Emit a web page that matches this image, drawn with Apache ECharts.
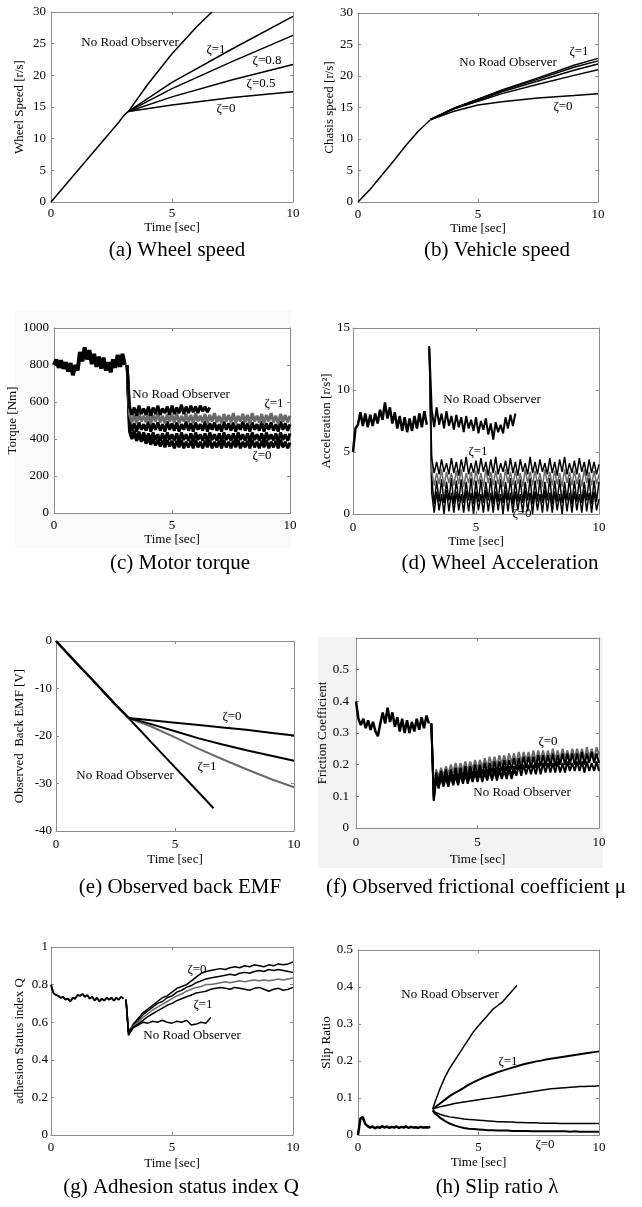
<!DOCTYPE html>
<html>
<head>
<meta charset="utf-8">
<title>Road observer results</title>
<script src="https://cdn.jsdelivr.net/npm/echarts@6/dist/echarts.min.js"></script>
<style>
  html, body { margin: 0; padding: 0; background: #fff; }
  #chart { width: 642px; height: 1207px; }
</style>
</head>
<body>
<div id="chart"></div>
<script>
// time bases (sec)
var tPre = [0, 0.1, 0.2, 0.3, 0.4, 0.5, 0.6, 0.7, 0.8, 0.9, 1.0, 1.1, 1.2, 1.3, 1.4, 1.5,
    1.6, 1.7, 1.8, 1.9, 2.0, 2.1, 2.2, 2.3, 2.4, 2.5, 2.6, 2.7, 2.8, 2.9, 3.0];
var tPost = [3.1, 3.2, 3.4, 3.6, 3.8, 4.0, 4.2, 4.4, 4.6, 4.8, 5.0, 5.2, 5.4, 5.6, 5.8, 6.0,
    6.2, 6.4, 6.6, 6.8, 7.0, 7.2, 7.4, 7.6, 7.8, 8.0, 8.2, 8.4, 8.6, 8.8, 9.0, 9.2, 9.4, 9.6, 9.8, 10.0];
var tNro = [3.1, 3.2, 3.4, 3.6, 3.8, 4.0, 4.2, 4.4, 4.6, 4.8, 5.0, 5.2, 5.4, 5.6, 5.8, 6.0, 6.2, 6.4, 6.6];
var tFine = [3.1, 3.2, 3.3, 3.4, 3.5, 3.6, 3.7, 3.8, 3.9, 4.0,
    4.1, 4.2, 4.3, 4.4, 4.5, 4.6, 4.7, 4.8, 4.9, 5.0,
    5.1, 5.2, 5.3, 5.4, 5.5, 5.6, 5.7, 5.8, 5.9, 6.0,
    6.1, 6.2, 6.3, 6.4, 6.5, 6.6, 6.7, 6.8, 6.9, 7.0,
    7.1, 7.2, 7.3, 7.4, 7.5, 7.6, 7.7, 7.8, 7.9, 8.0,
    8.1, 8.2, 8.3, 8.4, 8.5, 8.6, 8.7, 8.8, 8.9, 9.0,
    9.1, 9.2, 9.3, 9.4, 9.5, 9.6, 9.7, 9.8, 9.9, 10.0];
var tNroFine = [3.1, 3.2, 3.3, 3.4, 3.5, 3.6, 3.7, 3.8, 3.9, 4.0,
    4.1, 4.2, 4.3, 4.4, 4.5, 4.6, 4.7, 4.8, 4.9, 5.0,
    5.1, 5.2, 5.3, 5.4, 5.5, 5.6, 5.7, 5.8, 5.9, 6.0,
    6.1, 6.2, 6.3, 6.4, 6.5, 6.6];

// (a) wheel speed [r/s]
var wheelT0 = [0, 1, 2, 2.8, 3.0, 3.1, 3.2];
var wheelCommon = [0, 4.5, 9.0, 12.6, 13.6, 14.0, 14.3];
var wheelTNro = [3.2, 4, 5, 6, 6.65];
var wheelNro = [14.3, 18.6, 23.4, 27.6, 30];
var wheelTPost = [3.2, 5, 7.5, 10];
var wheelZeta1 = [14.3, 18.9, 24.2, 29.3];
var wheelZeta08 = [14.3, 17.9, 22.2, 26.3];
var wheelZeta05 = [14.3, 16.6, 19.3, 21.7];
var wheelZeta0 = [14.3, 15.3, 16.5, 17.4];

// (b) chassis speed [r/s]
var chassisT0 = [0, 0.5, 1, 1.5, 2, 2.5, 3.03];
var chassisCommon = [0, 2.0, 4.3, 6.6, 9.0, 11.2, 13.1];
var chassisTPost = [3.03, 4, 5, 6, 7.5, 9, 10];
var chassisZeta1 = [13.1, 14.9, 16.3, 17.8, 19.7, 21.7, 22.8];
var chassisNro = [13.1, 14.9, 16.3, 17.7, 19.5, 21.4, 22.4];
var chassisZeta08 = [13.1, 14.8, 16.1, 17.5, 19.2, 20.9, 21.9];
var chassisZeta05 = [13.1, 14.8, 16.0, 17.2, 18.7, 20.1, 21.0];
var chassisZeta0 = [13.1, 14.4, 15.4, 15.9, 16.5, 16.9, 17.2];

// (c) motor torque [Nm]
var torquePre = [800, 830, 785, 825, 780, 815,
    765, 810, 745, 800, 770, 870,
    820, 895, 830, 880, 805, 860,
    790, 845, 780, 840, 770, 815,
    760, 830, 785, 855, 790, 860,
    800];
var torqueZeta1 = [800, 535, 490, 530, 485, 540, 495, 525, 490, 535,
    485, 530, 495, 540, 490, 525, 485, 535, 495, 530,
    490, 540, 485, 525, 495, 535, 490, 530, 485, 540,
    495, 525, 490, 535, 485, 530, 495, 540, 490, 525,
    485, 535, 495, 530, 490, 540, 485, 525, 495, 535,
    490, 530, 485, 540, 495, 525, 490, 535, 485, 530,
    495, 540, 490, 525, 485, 535, 495, 530, 490, 525];
var torqueZeta08 = [800, 495, 445, 485, 440, 490, 450, 480, 445, 495,
    440, 485, 450, 490, 445, 480, 440, 495, 450, 485,
    445, 490, 440, 480, 450, 495, 445, 485, 440, 490,
    450, 480, 445, 495, 440, 485, 450, 490, 445, 480,
    440, 495, 450, 485, 445, 490, 440, 480, 450, 495,
    445, 485, 440, 490, 450, 480, 445, 495, 440, 485,
    450, 490, 445, 480, 440, 495, 450, 485, 445, 480];
var torqueZeta05 = [800, 455, 405, 445, 400, 440, 395, 435, 390, 430,
    390, 435, 395, 425, 390, 430, 385, 435, 395, 425,
    390, 430, 385, 435, 395, 425, 390, 430, 385, 435,
    395, 425, 390, 430, 385, 435, 395, 425, 390, 430,
    385, 435, 395, 425, 390, 430, 385, 435, 395, 425,
    390, 430, 385, 435, 395, 425, 390, 430, 385, 435,
    395, 425, 390, 430, 385, 435, 395, 425, 390, 430];
var torqueZeta0 = [800, 440, 400, 430, 390, 420, 385, 415, 375, 405,
    370, 400, 365, 395, 360, 390, 355, 395, 360, 390,
    350, 390, 355, 395, 350, 385, 355, 390, 350, 395,
    355, 385, 350, 390, 355, 395, 350, 385, 355, 390,
    350, 395, 355, 385, 350, 390, 355, 395, 350, 385,
    355, 390, 350, 395, 355, 385, 350, 390, 355, 395,
    350, 385, 355, 390, 350, 395, 355, 385, 350, 380];
var torqueNro = [800, 575, 530, 570, 525, 580, 535, 565, 530, 575,
    525, 570, 535, 580, 530, 565, 540, 575, 530, 580,
    535, 570, 540, 585, 535, 575, 540, 580, 545, 575,
    540, 580, 550, 575, 545, 570];

// (d) wheel acceleration [r/s^2]
var accelPre = [5.0, 6.9, 7.2, 8.2, 7.1, 8.1,
    7.0, 8.0, 7.1, 8.1, 7.3, 8.4,
    7.6, 9.0, 7.7, 8.6, 7.3, 8.2,
    6.9, 7.9, 6.7, 7.8, 6.6, 7.7,
    6.7, 7.9, 6.9, 8.1, 7.0, 8.3,
    7.2];
var accelNro = [13.5, 8.4, 7.0, 8.6, 7.2, 8.1, 6.9, 8.3, 7.1, 7.9,
    6.8, 8.0, 7.0, 7.8, 6.6, 7.9, 6.9, 7.6, 6.7, 7.8,
    6.5, 7.5, 6.8, 7.7, 6.4, 7.3, 6.0, 7.4, 6.6, 7.2,
    6.5, 7.8, 6.9, 8.0, 7.1, 8.1];
var accelZeta1 = [13.5, 4.5, 3.3, 4.2, 3.2, 4.4, 3.4, 4.1, 3.2, 4.5,
    3.3, 4.2, 3.1, 4.4, 3.4, 4.6, 3.2, 4.1, 3.3, 4.3,
    3.2, 4.5, 3.4, 4.2, 3.1, 4.4, 3.3, 4.6, 3.2, 4.1,
    3.4, 4.3, 3.2, 4.5, 3.3, 4.2, 3.1, 4.4, 3.4, 4.1,
    3.2, 4.6, 3.3, 4.2, 3.2, 4.4, 3.4, 4.1, 3.2, 4.5,
    3.3, 4.2, 3.1, 4.4, 3.4, 4.6, 3.2, 4.1, 3.3, 4.3,
    3.2, 4.5, 3.4, 4.2, 3.1, 4.4, 3.3, 4.2, 3.2, 4.0];
var accelGray = [13.5, 3.5, 2.3, 3.3, 2.4, 3.6, 2.2, 3.4, 2.5, 3.3,
    2.3, 3.5, 2.4, 3.6, 2.2, 3.3, 2.5, 3.4, 2.3, 3.5,
    2.4, 3.3, 2.2, 3.6, 2.5, 3.4, 2.3, 3.5, 2.4, 3.3,
    2.2, 3.6, 2.5, 3.4, 2.3, 3.5, 2.4, 3.3, 2.2, 3.6,
    2.5, 3.4, 2.3, 3.5, 2.4, 3.3, 2.2, 3.6, 2.5, 3.4,
    2.3, 3.5, 2.4, 3.3, 2.2, 3.6, 2.5, 3.4, 2.3, 3.5,
    2.4, 3.3, 2.2, 3.6, 2.5, 3.4, 2.3, 3.5, 2.4, 3.2];
var accelZeta05 = [13.5, 2.9, 0.8, 2.7, 1.0, 2.8, 0.9, 2.6, 1.1, 2.9,
    0.8, 2.7, 1.0, 2.8, 0.9, 2.6, 1.1, 2.9, 0.8, 2.7,
    1.0, 2.8, 0.9, 2.6, 1.1, 2.9, 0.8, 2.7, 1.0, 2.8,
    0.9, 2.6, 1.1, 2.9, 0.8, 2.7, 1.0, 2.8, 0.9, 2.6,
    1.1, 2.9, 0.8, 2.7, 1.0, 2.8, 0.9, 2.6, 1.1, 2.9,
    0.8, 2.7, 1.0, 2.8, 0.9, 2.6, 1.1, 2.9, 0.8, 2.7,
    1.0, 2.8, 0.9, 2.6, 1.1, 2.9, 0.8, 2.7, 1.0, 2.6];
var accelZeta0 = [13.5, 1.7, 0.1, 1.8, 0.3, 1.6, 0.0, 1.9, 0.2, 1.7,
    0.1, 1.8, 0.3, 1.6, 0.1, 1.9, 0.2, 1.7, 0.0, 1.8,
    0.3, 1.6, 0.1, 1.9, 0.2, 1.7, 0.1, 1.8, 0.3, 1.6,
    0.0, 1.9, 0.2, 1.7, 0.1, 1.8, 0.3, 1.6, 0.1, 1.9,
    0.2, 1.7, 0.0, 1.8, 0.3, 1.6, 0.1, 1.9, 0.2, 1.7,
    0.1, 1.8, 0.3, 1.6, 0.0, 1.9, 0.2, 1.7, 0.1, 1.8,
    0.3, 1.6, 0.1, 1.9, 0.2, 1.7, 0.1, 1.8, 0.3, 1.2];

// (e) observed back EMF [V]
var emfT0 = [0, 0.5, 1, 1.5, 2, 2.5, 3.05];
var emfCommon = [0, -2.7, -5.4, -8.0, -10.7, -13.4, -16.2];
var emfTNro = [3.05, 4, 5, 6, 6.62];
var emfNro = [-16.2, -21.3, -26.6, -31.9, -35.2];
var emfTPost = [3.05, 4, 5, 6, 7, 8, 9, 10];
var emfZeta0 = [-16.2, -16.7, -17.2, -17.7, -18.2, -18.7, -19.3, -19.9];
var emfZeta05 = [-16.2, -17.5, -19.0, -20.5, -21.8, -23.0, -24.1, -25.2];
var emfZeta1 = [-16.2, -18.0, -20.3, -22.7, -24.9, -27.0, -29.0, -30.8];

// (f) observed friction coefficient
var frictionPre = [0.400, 0.345, 0.325, 0.345, 0.315, 0.340,
    0.310, 0.335, 0.305, 0.290, 0.330, 0.365,
    0.330, 0.380, 0.335, 0.365, 0.320, 0.350,
    0.305, 0.345, 0.300, 0.340, 0.300, 0.335,
    0.305, 0.345, 0.310, 0.350, 0.315, 0.355,
    0.330];
var frictionZeta0 = [0.330, 0.120, 0.185, 0.160, 0.190, 0.165, 0.195, 0.170, 0.200, 0.175,
    0.205, 0.175, 0.205, 0.180, 0.210, 0.180, 0.210, 0.185, 0.215, 0.185,
    0.215, 0.190, 0.220, 0.190, 0.225, 0.195, 0.225, 0.195, 0.230, 0.200,
    0.230, 0.200, 0.235, 0.205, 0.235, 0.205, 0.240, 0.205, 0.240, 0.210,
    0.240, 0.210, 0.245, 0.210, 0.245, 0.215, 0.245, 0.210, 0.245, 0.215,
    0.250, 0.215, 0.245, 0.215, 0.250, 0.220, 0.245, 0.215, 0.250, 0.220,
    0.250, 0.220, 0.250, 0.215, 0.255, 0.220, 0.250, 0.220, 0.255, 0.230];
var frictionZeta05 = [0.330, 0.100, 0.175, 0.145, 0.180, 0.150, 0.185, 0.150, 0.185, 0.155,
    0.190, 0.155, 0.190, 0.160, 0.195, 0.160, 0.195, 0.165, 0.200, 0.165,
    0.200, 0.170, 0.205, 0.170, 0.205, 0.175, 0.210, 0.175, 0.210, 0.180,
    0.215, 0.180, 0.215, 0.185, 0.220, 0.185, 0.220, 0.185, 0.225, 0.190,
    0.225, 0.190, 0.225, 0.190, 0.230, 0.195, 0.230, 0.195, 0.230, 0.195,
    0.235, 0.195, 0.230, 0.200, 0.235, 0.200, 0.235, 0.200, 0.235, 0.200,
    0.235, 0.200, 0.240, 0.200, 0.235, 0.205, 0.240, 0.205, 0.235, 0.205];
var frictionZeta1 = [0.330, 0.090, 0.160, 0.130, 0.165, 0.135, 0.170, 0.135, 0.170, 0.140,
    0.175, 0.140, 0.175, 0.145, 0.180, 0.145, 0.180, 0.150, 0.180, 0.150,
    0.185, 0.150, 0.185, 0.155, 0.190, 0.155, 0.190, 0.160, 0.190, 0.160,
    0.195, 0.160, 0.195, 0.165, 0.195, 0.165, 0.200, 0.165, 0.200, 0.170,
    0.200, 0.170, 0.200, 0.170, 0.205, 0.170, 0.205, 0.175, 0.205, 0.175,
    0.205, 0.175, 0.210, 0.175, 0.205, 0.175, 0.210, 0.180, 0.205, 0.180,
    0.210, 0.180, 0.210, 0.175, 0.210, 0.180, 0.205, 0.180, 0.210, 0.180];
var frictionNro = [0.330, 0.085, 0.155, 0.125, 0.160, 0.130, 0.160, 0.130, 0.165, 0.135,
    0.165, 0.135, 0.170, 0.140, 0.170, 0.140, 0.170, 0.145, 0.175, 0.145,
    0.175, 0.145, 0.175, 0.150, 0.180, 0.150, 0.180, 0.150, 0.180, 0.155,
    0.180, 0.155, 0.185, 0.155, 0.180, 0.170];

// (g) adhesion status index Q
var adhesionPre = [0.800, 0.755, 0.745, 0.740, 0.730, 0.735,
    0.720, 0.725, 0.710, 0.730, 0.725, 0.745,
    0.740, 0.750, 0.735, 0.745, 0.725, 0.735,
    0.715, 0.730, 0.710, 0.725, 0.715, 0.730,
    0.720, 0.730, 0.715, 0.730, 0.720, 0.735,
    0.725];
var adhesionZeta0 = [0.720, 0.540, 0.590, 0.620, 0.650, 0.670,
    0.690, 0.710, 0.730, 0.740, 0.760, 0.780,
    0.790, 0.800, 0.820, 0.840, 0.860, 0.870,
    0.875, 0.880, 0.885, 0.880, 0.890, 0.895,
    0.890, 0.900, 0.895, 0.905, 0.900, 0.895,
    0.905, 0.900, 0.910, 0.905, 0.910, 0.920];
var adhesionZeta05 = [0.720, 0.550, 0.585, 0.610, 0.640, 0.660,
    0.680, 0.700, 0.710, 0.730, 0.740, 0.760,
    0.770, 0.785, 0.795, 0.810, 0.820, 0.830,
    0.835, 0.840, 0.845, 0.850, 0.855, 0.850,
    0.860, 0.865, 0.860, 0.870, 0.875, 0.870,
    0.880, 0.875, 0.880, 0.875, 0.870, 0.865];
var adhesionGray = [0.720, 0.560, 0.580, 0.600, 0.625, 0.645,
    0.665, 0.680, 0.695, 0.710, 0.725, 0.740,
    0.750, 0.765, 0.775, 0.785, 0.790, 0.800,
    0.800, 0.805, 0.810, 0.815, 0.810, 0.815,
    0.820, 0.815, 0.820, 0.825, 0.820, 0.825,
    0.820, 0.825, 0.830, 0.825, 0.830, 0.835];
var adhesionZeta1 = [0.720, 0.550, 0.575, 0.590, 0.610, 0.630,
    0.645, 0.660, 0.675, 0.690, 0.700, 0.715,
    0.725, 0.735, 0.745, 0.755, 0.760, 0.765,
    0.775, 0.780, 0.785, 0.780, 0.775, 0.785,
    0.780, 0.775, 0.770, 0.780, 0.785, 0.775,
    0.765, 0.775, 0.780, 0.770, 0.775, 0.785];
var adhesionNro = [0.720, 0.530, 0.570, 0.585, 0.600, 0.595,
    0.605, 0.600, 0.610, 0.600, 0.595, 0.605,
    0.600, 0.610, 0.585, 0.590, 0.600, 0.595,
    0.625];

// (h) slip ratio
var slipPre = [0.000, 0.045, 0.048, 0.030, 0.024, 0.020,
    0.023, 0.018, 0.022, 0.019, 0.024, 0.020,
    0.023, 0.019, 0.022, 0.020, 0.023, 0.019,
    0.022, 0.020, 0.023, 0.019, 0.022, 0.020,
    0.021, 0.019, 0.022, 0.020, 0.021, 0.020,
    0.022];
var slipNro = [0.070, 0.090, 0.125, 0.155, 0.180, 0.200,
    0.220, 0.240, 0.260, 0.280, 0.295, 0.310,
    0.325, 0.340, 0.350, 0.360, 0.375, 0.390,
    0.405];
var slipZeta1 = [0.070, 0.075, 0.085, 0.095, 0.105, 0.113,
    0.120, 0.128, 0.136, 0.143, 0.149, 0.155,
    0.160, 0.165, 0.170, 0.174, 0.178, 0.182,
    0.186, 0.190, 0.193, 0.196, 0.199, 0.201,
    0.204, 0.206, 0.208, 0.210, 0.212, 0.214,
    0.216, 0.218, 0.220, 0.222, 0.224, 0.226];
var slipMid = [0.070, 0.072, 0.076, 0.079, 0.082, 0.085,
    0.087, 0.089, 0.091, 0.093, 0.095, 0.097,
    0.099, 0.101, 0.103, 0.105, 0.107, 0.109,
    0.111, 0.113, 0.115, 0.117, 0.119, 0.121,
    0.123, 0.125, 0.126, 0.127, 0.128, 0.129,
    0.130, 0.131, 0.131, 0.132, 0.132, 0.133];
var slipLow = [0.068, 0.062, 0.056, 0.052, 0.049, 0.047,
    0.045, 0.043, 0.042, 0.041, 0.040, 0.039,
    0.038, 0.037, 0.036, 0.036, 0.035, 0.035,
    0.034, 0.034, 0.033, 0.033, 0.033, 0.032,
    0.032, 0.032, 0.032, 0.031, 0.031, 0.031,
    0.031, 0.031, 0.031, 0.031, 0.031, 0.031];
var slipZeta0 = [0.066, 0.058, 0.047, 0.038, 0.031, 0.026,
    0.022, 0.019, 0.017, 0.016, 0.015, 0.014,
    0.013, 0.013, 0.012, 0.012, 0.012, 0.011,
    0.011, 0.011, 0.011, 0.010, 0.010, 0.010,
    0.010, 0.010, 0.010, 0.010, 0.010, 0.009,
    0.010, 0.009, 0.009, 0.009, 0.009, 0.009];

var FONT = '"Liberation Serif", "DejaVu Serif", serif';
var BOX = '#8c8c8c';
var BLACK = '#000';
var GRAY = '#6a6a6a';

// layout of the 8 panels
var panels = [
    {left: 51, top: 12, width: 242, height: 190, yMin: 0, yMax: 30, yStep: 5, yName: 'Wheel Speed [r/s]', yGap: 25, yMargin: 5, xMargin: 5, xGap: 13},
    {left: 358, top: 13, width: 240, height: 189, yMin: 0, yMax: 30, yStep: 5, yName: 'Chasis speed [r/s]', yGap: 21, yMargin: 5, xMargin: 6, xGap: 20},
    {left: 54, top: 328, width: 236, height: 185, yMin: 0, yMax: 1000, yStep: 200, yName: 'Torque [Nm]', yGap: 28, yMargin: 5, xMargin: 6, xGap: 20, bg: true},
    {left: 353, top: 328, width: 246, height: 186, yMin: 0, yMax: 15, yStep: 5, yName: 'Acceleration [r/s²]', yGap: 19, yMargin: 3, xMargin: 7, xGap: 20},
    {left: 56, top: 641, width: 238, height: 190, yMin: -40, yMax: 0, yStep: 10, yName: 'Observed  Back EMF [V]', yGap: 30, yMargin: 4, xMargin: 7, xGap: 22},
    {left: 356, top: 638, width: 243, height: 190, yMin: 0, yMax: 0.6, yStep: 0.1, yName: 'Friction Coefficient', yGap: 27, yMargin: 7, xMargin: 8, xGap: 25, hideTop: true, bg: true},
    {left: 51, top: 947, width: 242, height: 188, yMin: 0, yMax: 1, yStep: 0.2, yName: 'adhesion Status index Q', yGap: 25, yMargin: 3, xMargin: 6, xGap: 22},
    {left: 358, top: 950, width: 241, height: 185, yMin: 0, yMax: 0.5, yStep: 0.1, yName: 'Slip Ratio', yGap: 24, yMargin: 5, xMargin: 6, xGap: 21}
];

function zip(t, v) {
    return t.map(function (x, i) { return [x, v[i]]; });
}

var grids = [], xAxes = [], yAxes = [], series = [];

panels.forEach(function (p, i) {
    grids.push({
        left: p.left, top: p.top, width: p.width, height: p.height,
        show: !!p.bg, backgroundColor: '#fff', borderWidth: 0
    });
    var tickStyle = {inside: true, length: 3, lineStyle: {color: BOX}};
    var lineStyle = {onZero: false, lineStyle: {color: BOX, width: 1}};
    xAxes.push({
        gridIndex: i, type: 'value', position: 'bottom', min: 0, max: 10, interval: 5,
        name: 'Time [sec]', nameLocation: 'middle', nameGap: p.xGap,
        nameTextStyle: {color: BLACK, fontFamily: FONT, fontSize: 13},
        axisLine: lineStyle, axisTick: tickStyle,
        axisLabel: {margin: p.xMargin, color: BLACK, fontFamily: FONT, fontSize: 13},
        splitLine: {show: false}
    });
    xAxes.push({
        gridIndex: i, type: 'value', position: 'top', min: 0, max: 10, interval: 5,
        axisLine: lineStyle, axisTick: tickStyle, axisLabel: {show: false}, splitLine: {show: false}
    });
    yAxes.push({
        gridIndex: i, type: 'value', position: 'left', min: p.yMin, max: p.yMax, interval: p.yStep,
        name: p.yName, nameLocation: 'middle', nameRotate: 90, nameGap: p.yGap,
        nameTextStyle: {color: BLACK, fontFamily: FONT, fontSize: 13},
        axisLine: lineStyle, axisTick: tickStyle,
        axisLabel: {
            margin: p.yMargin, color: BLACK, fontFamily: FONT, fontSize: 13,
            formatter: function (v) {
                if (p.hideTop && v > p.yMax - p.yStep / 2) return '';
                return String(Math.round(v * 100) / 100);
            }
        },
        splitLine: {show: false}
    });
    yAxes.push({
        gridIndex: i, type: 'value', position: 'right', min: p.yMin, max: p.yMax, interval: p.yStep,
        axisLine: lineStyle, axisTick: tickStyle, axisLabel: {show: false}, splitLine: {show: false}
    });
});

function line(panel, t, v, color, width) {
    series.push({
        type: 'line',
        xAxisIndex: panel * 2,
        yAxisIndex: panel * 2,
        data: zip(t, v),
        showSymbol: false,
        symbol: 'none',
        silent: true,
        lineStyle: {color: color, width: width},
        z: 2
    });
}

// (a)
line(0, wheelT0, wheelCommon, BLACK, 1.5);
line(0, wheelTNro, wheelNro, BLACK, 1.5);
line(0, wheelTPost, wheelZeta1, BLACK, 1.5);
line(0, wheelTPost, wheelZeta08, BLACK, 1.5);
line(0, wheelTPost, wheelZeta05, BLACK, 1.5);
line(0, wheelTPost, wheelZeta0, BLACK, 1.5);
// (b)
line(1, chassisT0, chassisCommon, BLACK, 1.5);
line(1, chassisTPost, chassisZeta1, BLACK, 1.5);
line(1, chassisTPost, chassisNro, BLACK, 1.5);
line(1, chassisTPost, chassisZeta08, BLACK, 1.5);
line(1, chassisTPost, chassisZeta05, BLACK, 1.5);
line(1, chassisTPost, chassisZeta0, BLACK, 1.5);
// (c)
line(2, tPre, torquePre, BLACK, 4);
line(2, tFine, torqueZeta0, BLACK, 3);
line(2, tFine, torqueZeta05, BLACK, 3);
line(2, tFine, torqueZeta08, BLACK, 3);
line(2, tFine, torqueZeta1, GRAY, 3);
line(2, tNroFine, torqueNro, BLACK, 3);
// (d)
line(3, tPre, accelPre, BLACK, 2.5);
line(3, tFine, accelZeta0, BLACK, 1.5);
line(3, tFine, accelZeta05, BLACK, 1.5);
line(3, tFine, accelGray, GRAY, 1.5);
line(3, tFine, accelZeta1, BLACK, 1.5);
line(3, tNroFine, accelNro, BLACK, 2);
// (e)
line(4, emfT0, emfCommon, BLACK, 2.5);
line(4, emfTNro, emfNro, BLACK, 2);
line(4, emfTPost, emfZeta1, GRAY, 2);
line(4, emfTPost, emfZeta05, BLACK, 2);
line(4, emfTPost, emfZeta0, BLACK, 2);
// (f)
line(5, tPre, frictionPre, BLACK, 2.5);
line(5, tFine, frictionZeta0, GRAY, 2);
line(5, tFine, frictionZeta05, BLACK, 2);
line(5, tFine, frictionZeta1, BLACK, 2);
line(5, tNroFine, frictionNro, BLACK, 2);
// (g)
line(6, tPre, adhesionPre, BLACK, 2);
line(6, tPost, adhesionZeta0, BLACK, 1.5);
line(6, tPost, adhesionZeta05, BLACK, 1.5);
line(6, tPost, adhesionGray, GRAY, 1.5);
line(6, tPost, adhesionZeta1, BLACK, 1.5);
line(6, tNro, adhesionNro, BLACK, 1.5);
// (h)
line(7, tPre, slipPre, BLACK, 2.5);
line(7, tNro, slipNro, BLACK, 1.5);
line(7, tPost, slipZeta1, BLACK, 2);
line(7, tPost, slipMid, BLACK, 1.5);
line(7, tPost, slipLow, BLACK, 1.5);
line(7, tPost, slipZeta0, BLACK, 2);

// curve labels and sub-captions
var notes = [
    [130, 43, 'No Road Observer'], [216, 50, 'ζ=1'], [267, 61, 'ζ=0.8'], [261, 84, 'ζ=0.5'], [226, 109, 'ζ=0'],
    [508, 63, 'No Road Observer'], [579, 52, 'ζ=1'], [563, 107, 'ζ=0'],
    [181, 395, 'No Road Observer'], [274, 404, 'ζ=1'], [262, 456, 'ζ=0'],
    [492, 400, 'No Road Observer'], [478, 452, 'ζ=1'], [522, 514, 'ζ=0'],
    [232, 717, 'ζ=0'], [207, 767, 'ζ=1'], [125, 776, 'No Road Observer'],
    [548, 742, 'ζ=0'], [522, 793, 'No Road Observer'],
    [197, 970, 'ζ=0'], [203, 1005, 'ζ=1'], [192, 1036, 'No Road Observer'],
    [450, 995, 'No Road Observer'], [508, 1062, 'ζ=1'], [545, 1145, 'ζ=0']
];
var captions = [
    [177, 250, 'center', '(a) Wheel speed'],
    [497, 250, 'center', '(b) Vehicle speed'],
    [180, 563, 'center', '(c) Motor torque'],
    [500, 563, 'center', '(d) Wheel Acceleration'],
    [180, 887, 'center', '(e) Observed back EMF'],
    [326, 887, 'left', '(f) Observed frictional coefficient μ'],
    [181, 1187, 'center', '(g) Adhesion status index Q'],
    [497, 1187, 'center', '(h) Slip ratio λ']
];

var graphics = [
    {type: 'rect', shape: {x: 15, y: 310, width: 276, height: 238}, style: {fill: '#f9f9f9'}, z: -100, silent: true},
    {type: 'rect', shape: {x: 318, y: 637, width: 285, height: 231}, style: {fill: '#f3f3f3'}, z: -100, silent: true}
];
notes.forEach(function (n) {
    graphics.push({
        type: 'text', x: n[0], y: n[1], z: 50, silent: true,
        style: {text: n[2], fill: BLACK, fontFamily: FONT, fontSize: 13, align: 'center', verticalAlign: 'middle'}
    });
});
captions.forEach(function (c) {
    graphics.push({
        type: 'text', x: c[0], y: c[1], z: 50, silent: true,
        style: {text: c[3], fill: BLACK, fontFamily: FONT, fontSize: 21, align: c[2], verticalAlign: 'middle'}
    });
});

var myChart = echarts.init(document.getElementById('chart'), null, {renderer: 'canvas'});
myChart.setOption({
    animation: false,
    backgroundColor: '#fff',
    grid: grids,
    xAxis: xAxes,
    yAxis: yAxes,
    series: series,
    graphic: graphics
});
</script>
</body>
</html>
